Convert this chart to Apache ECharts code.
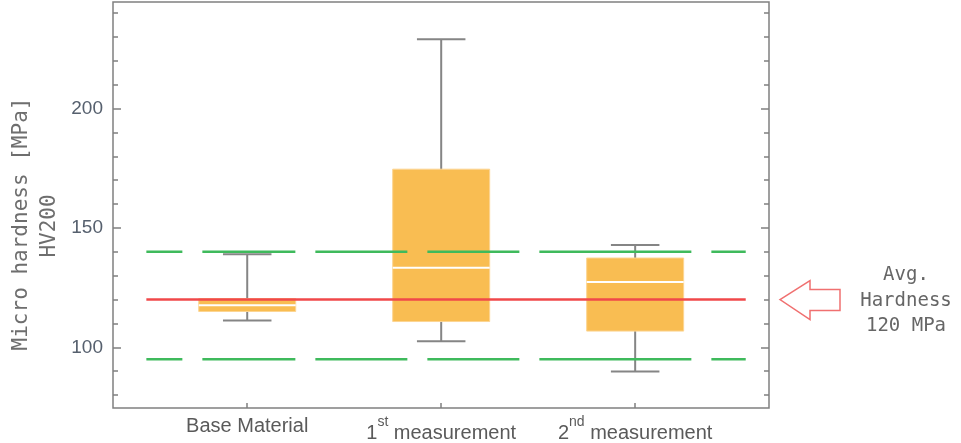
<!DOCTYPE html>
<html>
<head>
<meta charset="utf-8">
<script src="https://cdn.jsdelivr.net/npm/echarts@6/dist/echarts.min.js"></script>
<style>
  html, body { margin: 0; padding: 0; background: #ffffff; }
  #chart { width: 961px; height: 443px; }
</style>
</head>
<body>
<div id="chart"></div>
<script>
// Groups along the x axis and their positions
const categories = ['Base Material', '1st measurement', '2nd measurement'];
const catPositions = [1, 2, 3];

// Box statistics per group (MPa)
const boxLow    = [111.2, 102.5, 89.9];
const boxQ1     = [115.0, 110.8, 106.8];
const boxMedian = [117.6, 133.3, 127.4];
const boxQ3     = [120.4, 174.6, 137.4];
const boxHigh   = [139.0, 229.0, 142.9];

// Reference levels
const avgHardness = 120;
const bandLimits = [140, 95];
const refLineSpan = [0.48, 3.57];

// Axis ticks
const yMajorTicks = [100, 150, 200];
const yMinorTicks = [80, 90, 110, 120, 130, 140, 160, 170, 180, 190, 210, 220, 230, 240];
const yRange = [74.6, 244.6];
const xRange = [0.308, 3.69];

const frameColor = '#808080';
const tickFont = 'Liberation Sans';
const monoFont = 'DejaVu Sans Mono';
const limitDash = [36, 20, 93, 20, 92, 20, 92, 20, 152, 20, 40];

const chart = echarts.init(document.getElementById('chart'), null, { renderer: 'canvas' });

function yAxisDef(position, ticks, len, withLabels) {
  return {
    type: 'value', position: position, min: yRange[0], max: yRange[1],
    splitLine: { show: false },
    axisLine: { show: false },
    axisTick: { show: true, inside: true, length: len, customValues: ticks,
                lineStyle: { color: frameColor, width: 1.5 } },
    axisLabel: withLabels
      ? { show: true, customValues: ticks, margin: 10, fontFamily: tickFont, fontSize: 19, color: '#56606e' }
      : { show: false }
  };
}

// Superscripted ordinal labels ("1st measurement")
function formatCategory(value) {
  const idx = catPositions.indexOf(Math.round(value));
  const name = categories[idx] || '';
  const m = name.match(/^(\d+)(st|nd|rd|th) (.*)$/);
  if (!m) return '{plain|' + name + '}';
  return '{num|' + m[1] + '}{sup|' + m[2] + '}{num| ' + m[3] + '}';
}

const boxData = catPositions.map((p, i) => [p, boxLow[i], boxQ1[i], boxMedian[i], boxQ3[i], boxHigh[i]]);

function refLine(level) {
  return [[refLineSpan[0], level], [refLineSpan[1], level]];
}

function axisTitles() {
  return [
    {
      type: 'text', x: 22, y: 224, rotation: Math.PI / 2,
      style: { text: 'Micro hardness [MPa]', font: '21px "' + monoFont + '"', fill: '#6e6e6e',
               align: 'center', verticalAlign: 'middle' }
    },
    {
      type: 'text', x: 50, y: 226, rotation: Math.PI / 2,
      style: { text: 'HV200', font: '21px "' + monoFont + '"', fill: '#6e6e6e',
               align: 'center', verticalAlign: 'middle' }
    }
  ];
}

const option = {
  backgroundColor: '#ffffff',
  animation: false,
  grid: { left: 113, right: 192, top: 2, bottom: 33, show: true,
          borderColor: frameColor, borderWidth: 1.5, backgroundColor: 'transparent' },
  xAxis: {
    type: 'value', min: xRange[0], max: xRange[1],
    splitLine: { show: false },
    axisLine: { show: false },
    axisTick: { show: true, inside: true, length: 5, customValues: catPositions,
                lineStyle: { color: frameColor, width: 1.5 } },
    axisLabel: {
      show: true, customValues: catPositions, margin: 7,
      formatter: formatCategory,
      rich: {
        plain: { fontFamily: tickFont, fontSize: 20, color: '#5a5a5a', lineHeight: 22 },
        num: { fontFamily: tickFont, fontSize: 20, color: '#5a5a5a', lineHeight: 28, verticalAlign: 'bottom' },
        sup: { fontFamily: tickFont, fontSize: 14, color: '#5a5a5a', lineHeight: 15, verticalAlign: 'top' }
      }
    }
  },
  yAxis: [
    yAxisDef('left', yMajorTicks, 8, true),
    yAxisDef('left', yMinorTicks, 5, false),
    yAxisDef('right', yMajorTicks, 8, false),
    yAxisDef('right', yMinorTicks, 5, false)
  ],
  series: [
    {
      type: 'custom',
      name: 'Hardness',
      z: 2,
      data: boxData,
      encode: { x: 0, y: [1, 2, 3, 4, 5] },
      renderItem: function (params, api) {
        const x = api.value(0);
        const pLow = api.coord([x, api.value(1)]);
        const pQ1 = api.coord([x, api.value(2)]);
        const pMed = api.coord([x, api.value(3)]);
        const pQ3 = api.coord([x, api.value(4)]);
        const pHigh = api.coord([x, api.value(5)]);
        const halfBox = api.size([0.25, 0])[0];
        const halfCap = api.size([0.125, 0])[0];
        const whisker = { stroke: '#858585', lineWidth: 2 };
        return {
          type: 'group',
          children: [
            { type: 'line', shape: { x1: pLow[0], y1: pLow[1], x2: pHigh[0], y2: pHigh[1] }, style: whisker },
            { type: 'line', shape: { x1: pLow[0] - halfCap, y1: pLow[1], x2: pLow[0] + halfCap, y2: pLow[1] }, style: whisker },
            { type: 'line', shape: { x1: pHigh[0] - halfCap, y1: pHigh[1], x2: pHigh[0] + halfCap, y2: pHigh[1] }, style: whisker },
            { type: 'rect', shape: { x: pQ3[0] - halfBox, y: pQ3[1], width: halfBox * 2, height: pQ1[1] - pQ3[1] },
              style: { fill: '#f9bd52', stroke: '#fcd592', lineWidth: 1 } },
            { type: 'line', shape: { x1: pMed[0] - halfBox, y1: pMed[1], x2: pMed[0] + halfBox, y2: pMed[1] },
              style: { stroke: '#ffffff', lineWidth: 2 } }
          ]
        };
      }
    },
    {
      type: 'line', name: 'Upper limit', z: 3, silent: true, symbol: 'none',
      data: refLine(bandLimits[0]),
      lineStyle: { color: '#3fba5c', width: 2.5, type: limitDash }
    },
    {
      type: 'line', name: 'Lower limit', z: 3, silent: true, symbol: 'none',
      data: refLine(bandLimits[1]),
      lineStyle: { color: '#3fba5c', width: 2.5, type: limitDash }
    },
    {
      type: 'line', name: 'Average', z: 4, silent: true, symbol: 'none',
      data: refLine(avgHardness),
      lineStyle: { color: '#f0484a', width: 2.5 }
    }
  ],
  graphic: axisTitles()
};

chart.setOption(option);

// Annotation pointing at the average level on the right frame
const avgY = chart.convertToPixel({ yAxisIndex: 0 }, avgHardness);
const tipX = 780;
chart.setOption({
  graphic: axisTitles().concat([
    {
      type: 'polygon',
      shape: { points: [
        [tipX, avgY], [tipX + 30, avgY - 19], [tipX + 30, avgY - 10], [tipX + 60, avgY - 10],
        [tipX + 60, avgY + 11], [tipX + 30, avgY + 11], [tipX + 30, avgY + 20]
      ] },
      style: { fill: 'none', stroke: '#f07070', lineWidth: 1.5 }
    },
    {
      type: 'text', x: 906, y: avgY + 1,
      style: { text: 'Avg.\nHardness\n' + avgHardness + ' MPa', font: '19px "' + monoFont + '"',
               fill: '#666666', align: 'center', verticalAlign: 'middle', lineHeight: 25.5 }
    }
  ])
}, { replaceMerge: ['graphic'] });
</script>
</body>
</html>
